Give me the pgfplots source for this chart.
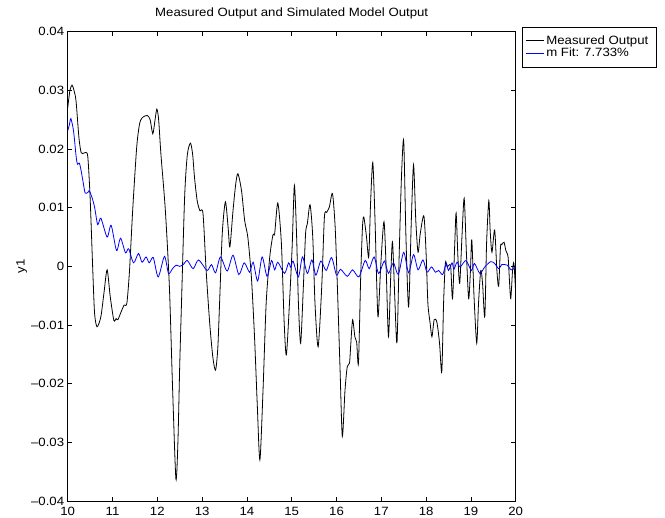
\documentclass[border=0pt]{standalone}
\usepackage{fontspec}
\setmainfont[FakeStretch=1.1]{Liberation Sans}
\usepackage{pgfplots}
\pgfplotsset{compat=1.18}

% measured response
\pgfplotstableread{
x y
10.00 0.0270
10.05 0.0300
10.097 0.0309
10.14 0.0300
10.186 0.0282
10.25 0.0220
10.30 0.0194
10.36 0.0193
10.41 0.0194
10.45 0.0186
10.50 0.0118
10.56 -0.0007
10.60 -0.0080
10.655 -0.0103
10.74 -0.0086
10.81 -0.0045
10.88 -0.0006
10.95 -0.0052
11.03 -0.0092
11.08 -0.0089
11.12 -0.0091
11.19 -0.0078
11.26 -0.0066
11.32 -0.0063
11.38 -0.0007
11.45 0.0095
11.54 0.0203
11.61 0.0245
11.69 0.0255
11.78 0.0257
11.84 0.0250
11.90 0.0226
11.95 0.0250
11.99 0.0268
12.03 0.0250
12.08 0.0192
12.18 0.0095
12.27 -0.0035
12.34 -0.0205
12.415 -0.0362
12.46 -0.0300
12.50 -0.0170
12.54 -0.0063
12.61 0.0118
12.67 0.0190
12.74 0.0210
12.79 0.0190
12.83 0.0152
12.89 0.0112
12.95 0.0095
13.02 0.0090
13.09 -0.0007
13.17 -0.0097
13.24 -0.0155
13.30 -0.0177
13.35 -0.0140
13.39 -0.0063
13.45 0.0056
13.52 0.0110
13.58 0.0067
13.62 0.0033
13.69 0.0095
13.75 0.0140
13.80 0.0158
13.88 0.0129
13.95 0.0078
14.02 0.0050
14.10 -0.0018
14.17 -0.0120
14.23 -0.0233
14.29 -0.0330
14.36 -0.0211
14.43 -0.0063
14.51 0.0016
14.58 0.0053
14.62 0.0056
14.69 0.0108
14.77 0.0039
14.83 -0.0092
14.88 -0.0151
14.95 -0.0063
15.01 0.0033
15.06 0.0138
15.11 0.0050
15.15 -0.0063
15.20 -0.0131
15.26 -0.0035
15.31 0.0056
15.35 0.0073
15.41 0.0105
15.47 0.0050
15.52 -0.0063
15.59 -0.0137
15.67 -0.0035
15.73 0.0084
15.78 0.0092
15.84 0.0101
15.91 0.0124
15.97 0.0067
16.02 -0.0035
16.08 -0.0177
16.13 -0.0290
16.19 -0.0211
16.24 -0.0171
16.29 -0.0165
16.32 -0.0131
16.36 -0.0091
16.41 -0.0120
16.45 -0.0129
16.49 -0.0165
16.54 -0.0018
16.58 0.0067
16.61 0.0084
16.67 0.0050
16.72 0.0016
16.76 0.0107
16.81 0.0177
16.86 0.0078
16.90 -0.0035
16.93 -0.0086
16.99 0.0005
17.06 0.0076
17.11 -0.0007
17.16 -0.0120
17.21 -0.0018
17.25 0.0042
17.30 -0.0052
17.35 -0.0130
17.40 0.0022
17.45 0.0152
17.50 0.0214
17.55 0.0050
17.61 -0.0069
17.67 0.0078
17.72 0.0173
17.77 0.0078
17.82 0.0024
17.87 0.0056
17.95 0.0086
18.00 0.0022
18.04 -0.0063
18.09 -0.0097
18.13 -0.0120
18.18 -0.0091
18.24 -0.0095
18.30 -0.0131
18.35 -0.0180
18.39 -0.0063
18.43 0.0006
18.47 -0.0001
18.51 0.0002
18.55 -0.0001
18.59 -0.0055
18.64 0.0039
18.67 0.0091
18.71 0.0016
18.75 -0.0029
18.80 0.0050
18.85 0.0116
18.90 0.0022
18.95 -0.0055
18.99 -0.0007
19.02 0.0045
19.07 -0.0052
19.13 -0.0131
19.17 -0.0063
19.22 -0.0007
19.26 -0.0029
19.31 -0.0086
19.35 0.0039
19.40 0.0112
19.43 0.0061
19.47 0.0024
19.53 0.0062
19.58 -0.0007
19.62 -0.0034
19.66 0.0033
19.69 0.0037
19.74 0.0041
19.78 0.0027
19.83 0.0016
19.86 -0.0024
19.89 -0.0055
19.93 -0.0007
19.96 0.0005
20.00 -0.0046
}\measured

% simulated model response
\pgfplotstableread{
x y
10.00 0.0231
10.04 0.0242
10.07 0.0252
10.13 0.0231
10.19 0.0186
10.22 0.0174
10.26 0.0176
10.30 0.0163
10.35 0.0141
10.39 0.0125
10.45 0.0126
10.48 0.0129
10.54 0.0118
10.60 0.0101
10.67 0.0071
10.74 0.0082
10.88 0.0050
10.97 0.0070
11.09 0.0027
11.18 0.0048
11.29 0.0023
11.36 0.0030
11.47 0.0006
11.58 0.0022
11.66 0.0007
11.75 0.0016
11.82 0.0006
11.91 0.0015
12.02 -0.0018
12.16 0.0017
12.25 -0.0012
12.34 -0.0004
12.42 0.0002
12.50 0.0000
12.58 0.0003
12.67 0.0010
12.80 -0.0004
12.92 0.0011
13.11 -0.0007
13.21 0.0003
13.30 -0.0011
13.41 0.0016
13.56 -0.0008
13.69 0.0019
13.82 -0.0014
13.94 0.0006
14.06 -0.0010
14.14 0.0007
14.24 -0.0025
14.34 0.0016
14.45 -0.0017
14.55 0.0010
14.62 -0.0006
14.69 0.0007
14.84 -0.0012
14.93 0.0006
14.98 -0.0002
15.03 0.0009
15.15 -0.0018
15.24 0.0016
15.35 -0.0012
15.45 0.0011
15.54 -0.0015
15.65 0.0009
15.77 -0.0007
15.89 0.0015
16.00 -0.0015
16.09 -0.0005
16.24 -0.0017
16.36 -0.0006
16.50 -0.0018
16.64 0.0010
16.73 -0.0004
16.84 0.0016
16.94 -0.0012
17.07 0.0009
17.16 -0.0012
17.27 0.0006
17.38 -0.0014
17.50 0.0024
17.61 -0.0011
17.72 0.0020
17.82 -0.0006
17.93 0.0011
18.02 -0.0010
18.12 -0.0001
18.21 -0.0010
18.28 -0.0007
18.37 -0.0014
18.45 0.0005
18.50 -0.0007
18.58 0.0006
18.62 -0.0005
18.69 0.0007
18.76 -0.0001
18.89 0.0010
19.01 -0.0007
19.08 0.0005
19.20 -0.0012
19.31 -0.0001
19.44 0.0008
19.53 0.0005
19.62 -0.0004
19.69 0.0003
19.81 0.0002
19.90 -0.0006
20.00 -0.0001
}\simulated

\begin{document}
\begin{tikzpicture}[font=\fontsize{12bp}{14bp}\selectfont]
\useasboundingbox (-67.7bp,-17bp) rectangle (597.3bp,501bp);
\begin{axis}[
  at={(0,0)}, anchor=south west,
  scale only axis,
  width=448bp, height=469.3bp,
  xmin=10, xmax=20, ymin=-0.04, ymax=0.04,
  xtick={10,11,12,13,14,15,16,17,18,19,20},
  xticklabels={10,11,12,13,14,15,16,17,18,19,20},
  ytick={-0.04,-0.03,-0.02,-0.01,0,0.01,0.02,0.03,0.04},
  yticklabels={--0.04,--0.03,--0.02,--0.01,0,0.01,0.02,0.03,0.04},
  scaled y ticks=false,
  tick align=inside,
  major tick length=4.5bp,
  tick style={black, line width=0.6bp},
  axis line style={line width=1bp},
  xticklabel style={yshift=-3bp},
  every axis title shift=0pt,
  title={Measured Output and Simulated Model Output},
  title style={at={(axis description cs:0.5,1)}, anchor=base, yshift=14.7bp, inner sep=0pt},
  ylabel={y1},
  ylabel style={at={(axis description cs:-0.1027,0.5)}, anchor=center},
  legend style={at={(axis description cs:1.0147,1.0107)}, anchor=north west,
    draw=black, line width=0.5bp, inner xsep=3bp, inner ysep=6.5bp,
    row sep=-1.5bp, font=\fontsize{12bp}{14bp}\selectfont},
  legend cell align=left,
  legend image code/.code={\draw[#1] (0bp,0bp) -- (18bp,0bp);},
]
\addplot[black, line width=0.8bp, smooth, tension=0.45] table {\measured};
\addlegendentry{Measured Output\hspace*{3bp}}
\addplot[blue, line width=0.8bp, smooth, tension=0.45] table {\simulated};
\addlegendentry{m Fit: 7.733\%}
\end{axis}
\end{tikzpicture}
\end{document}
